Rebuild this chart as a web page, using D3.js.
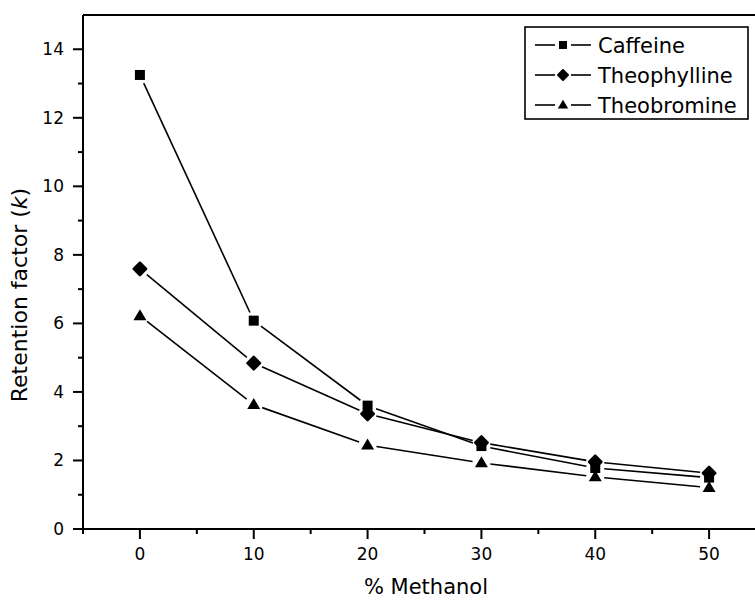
<!DOCTYPE html>
<html>
<head>
<meta charset="utf-8">
<script src="https://cdn.jsdelivr.net/npm/d3@7"></script>
<style>
    body { margin: 0; background: #fff; }
    svg { display: block; }
</style>
</head>
<body>
<div id="chart"></div>
<script>
let methanol = [0, 10, 20, 30, 40, 50]
let seriesNames = ["Caffeine", "Theophylline", "Theobromine"]
let caffeine = [13.25, 6.08, 3.6, 2.42, 1.78, 1.5]
let theophylline = [7.59, 4.84, 3.36, 2.52, 1.96, 1.63]
let theobromine = [6.22, 3.63, 2.45, 1.93, 1.52, 1.21]
let xTicks = [0, 10, 20, 30, 40, 50]
let yTicks = [0, 2, 4, 6, 8, 10, 12, 14]

let width = 755, height = 601
let font = "DejaVu Sans, Verdana, sans-serif"

let x = d3.scaleLinear().domain([-5, 55]).range([83, 766])
let y = d3.scaleLinear().domain([0, 15]).range([529, 15])

let svg = d3.select("#chart").append("svg")
    .attr("width", width)
    .attr("height", height)

let series = [
    { name: seriesNames[0], values: caffeine, symbol: "square" },
    { name: seriesNames[1], values: theophylline, symbol: "diamond" },
    { name: seriesNames[2], values: theobromine, symbol: "triangle" }
]

// draw a marker centred on cx, cy
function marker(g, type, cx, cy, s) {
    if (type == "square") {
        g.append("rect")
            .attr("x", cx - s / 2).attr("y", cy - s / 2)
            .attr("width", s).attr("height", s)
            .attr("fill", "#000")
    } else if (type == "diamond") {
        let r = s * 0.62
        g.append("path")
            .attr("d", "M" + cx + "," + (cy - r) + "L" + (cx + r) + "," + cy + "L" + cx + "," + (cy + r) + "L" + (cx - r) + "," + cy + "Z")
            .attr("fill", "#000")
            .attr("stroke", "#000")
            .attr("stroke-width", s * 0.25)
            .attr("stroke-linejoin", "round")
    } else {
        let w = s * 1.3, h = s * 1.1
        g.append("path")
            .attr("d", "M" + cx + "," + (cy - h * 0.6) + "L" + (cx + w / 2) + "," + (cy + h * 0.4) + "L" + (cx - w / 2) + "," + (cy + h * 0.4) + "Z")
            .attr("fill", "#000")
    }
}

// top frame line
svg.append("line")
    .attr("x1", x(-5)).attr("x2", x(55))
    .attr("y1", y(15)).attr("y2", y(15))
    .attr("stroke", "#000").attr("stroke-width", 2)

// x axis
let xAxis = svg.append("g")
xAxis.append("line")
    .attr("x1", x(-5)).attr("x2", x(55))
    .attr("y1", y(0)).attr("y2", y(0))
    .attr("stroke", "#000").attr("stroke-width", 2)
d3.range(-5, 56, 5).forEach(function (v) {
    let major = v % 10 == 0
    xAxis.append("line")
        .attr("x1", x(v)).attr("x2", x(v))
        .attr("y1", y(0)).attr("y2", y(0) + (major ? 10 : 5))
        .attr("stroke", "#000").attr("stroke-width", 2)
})
xAxis.selectAll("text.tick")
    .data(xTicks)
    .enter().append("text")
    .attr("x", d => x(d))
    .attr("y", y(0) + 31)
    .attr("text-anchor", "middle")
    .style("font-family", font)
    .style("font-size", "17px")
    .text(d => d)

// y axis
let yAxis = svg.append("g")
yAxis.append("line")
    .attr("x1", x(-5)).attr("x2", x(-5))
    .attr("y1", y(0)).attr("y2", y(15))
    .attr("stroke", "#000").attr("stroke-width", 2)
d3.range(0, 15, 1).forEach(function (v) {
    let major = v % 2 == 0
    yAxis.append("line")
        .attr("x1", x(-5)).attr("x2", x(-5) - (major ? 10 : 5))
        .attr("y1", y(v)).attr("y2", y(v))
        .attr("stroke", "#000").attr("stroke-width", 2)
})
yAxis.selectAll("text.tick")
    .data(yTicks)
    .enter().append("text")
    .attr("x", x(-5) - 19)
    .attr("y", d => y(d) + 6)
    .attr("text-anchor", "end")
    .style("font-family", font)
    .style("font-size", "17px")
    .text(d => d)

// axis titles
svg.append("text")
    .attr("x", 426)
    .attr("y", 594)
    .attr("text-anchor", "middle")
    .style("font-family", font)
    .style("font-size", "21px")
    .text("% Methanol")

let yTitle = svg.append("text")
    .attr("transform", "translate(27,295) rotate(-90)")
    .attr("text-anchor", "middle")
    .style("font-family", font)
    .style("font-size", "22px")
yTitle.append("tspan").text("Retention factor (")
yTitle.append("tspan").style("font-style", "italic").text("k")
yTitle.append("tspan").text(")")

// series: segments with a gap around each symbol
let gap = 9
series.forEach(function (s) {
    let g = svg.append("g")
    let pts = methanol.map((m, i) => [x(m), y(s.values[i])])
    for (let i = 0; i < pts.length - 1; i++) {
        let a = pts[i], b = pts[i + 1]
        let dx = b[0] - a[0], dy = b[1] - a[1]
        let len = Math.sqrt(dx * dx + dy * dy)
        let ux = dx / len, uy = dy / len
        g.append("line")
            .attr("x1", a[0] + ux * gap).attr("y1", a[1] + uy * gap)
            .attr("x2", b[0] - ux * gap).attr("y2", b[1] - uy * gap)
            .attr("stroke", "#000").attr("stroke-width", 1.6)
    }
    pts.forEach(p => marker(g, s.symbol, p[0], p[1], 10))
})

// legend
let legend = svg.append("g")
legend.append("rect")
    .attr("x", 525).attr("y", 27)
    .attr("width", 223).attr("height", 92)
    .attr("fill", "#fff")
    .attr("stroke", "#000").attr("stroke-width", 1.6)
series.forEach(function (s, i) {
    let cy = 45 + i * 30
    legend.append("line")
        .attr("x1", 535).attr("x2", 555).attr("y1", cy).attr("y2", cy)
        .attr("stroke", "#000").attr("stroke-width", 1.6)
    legend.append("line")
        .attr("x1", 571).attr("x2", 591).attr("y1", cy).attr("y2", cy)
        .attr("stroke", "#000").attr("stroke-width", 1.6)
    marker(legend, s.symbol, 563, cy, 8)
    legend.append("text")
        .attr("x", 598)
        .attr("y", cy + 8)
        .style("font-family", font)
        .style("font-size", "21px")
        .text(s.name)
})
</script>
</body>
</html>
